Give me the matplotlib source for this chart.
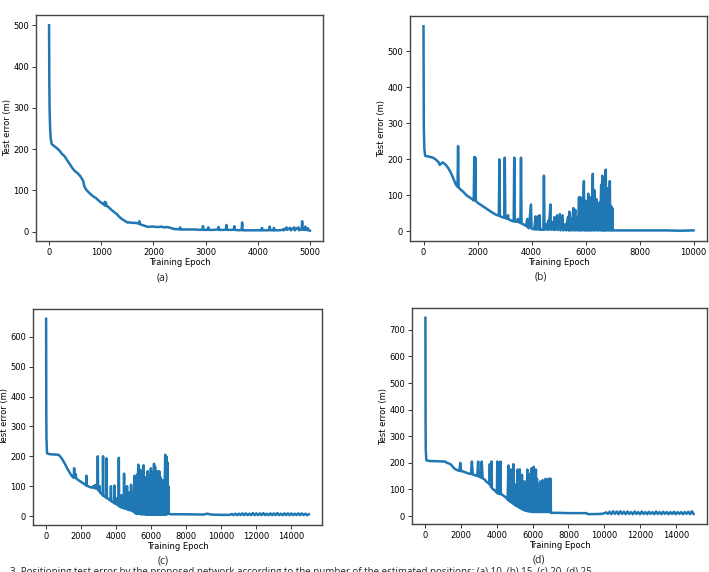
import numpy as np
import matplotlib
matplotlib.use("Agg")
import matplotlib.pyplot as plt

# (epoch, test error) pairs
points_a = [
    (0, 500), (5, 360), (10, 300), (20, 250), (30, 228), (50, 212), (100, 207), (150, 202),
    (200, 196), (250, 188), (300, 182), (350, 172), (400, 163), (450, 153), (500, 146),
    (550, 141), (600, 134), (650, 124), (680, 108), (720, 100), (760, 95), (800, 90),
    (850, 85), (900, 81), (950, 75), (1000, 70), (1050, 65), (1070, 72), (1080, 62),
    (1090, 70), (1100, 63), (1150, 58), (1200, 52), (1250, 47), (1300, 42), (1350, 35),
    (1400, 30), (1450, 26), (1500, 22), (1550, 22), (1600, 21), (1650, 21), (1700, 20),
    (1720, 19), (1730, 25), (1740, 18), (1780, 16), (1850, 13), (1900, 11), (1950, 12),
    (2000, 12), (2050, 11), (2100, 11), (2150, 12), (2200, 10), (2250, 11), (2300, 10),
    (2350, 8), (2400, 6), (2450, 6), (2500, 5), (2510, 10), (2530, 5), (2600, 5),
    (2700, 5), (2800, 5), (2900, 4), (2940, 5), (2950, 13), (2960, 4), (3000, 4),
    (3040, 5), (3050, 10), (3060, 4), (3150, 4), (3240, 5), (3250, 11), (3260, 4),
    (3350, 4), (3390, 5), (3400, 16), (3410, 4), (3500, 4), (3540, 5), (3550, 13),
    (3560, 4), (3650, 3), (3690, 4), (3700, 22), (3710, 3), (3800, 3), (3900, 3),
    (4000, 3), (4070, 3), (4080, 9), (4090, 3), (4200, 3), (4220, 4), (4230, 12),
    (4240, 3), (4300, 3), (4310, 9), (4320, 3), (4400, 3), (4480, 4), (4490, 6),
    (4500, 3), (4540, 8), (4550, 10), (4560, 4), (4620, 9), (4630, 3), (4640, 4),
    (4700, 10), (4710, 3), (4720, 5), (4780, 10), (4790, 3), (4800, 4), (4840, 5),
    (4850, 25), (4860, 5), (4900, 4), (4910, 12), (4920, 4), (4950, 4), (4960, 8),
    (4970, 3), (5000, 2),
]

points_b = [
    (0, 570), (5, 420), (10, 300), (30, 230), (60, 210), (200, 208), (350, 205),
    (450, 200), (550, 193), (600, 185), (650, 188), (700, 192), (800, 187), (900, 178),
    (1000, 165), (1100, 148), (1200, 130), (1260, 124), (1280, 237), (1300, 122),
    (1400, 115), (1500, 108), (1600, 100), (1700, 95), (1800, 90), (1860, 86),
    (1880, 207), (1900, 90), (1920, 205), (1940, 84), (2000, 80), (2100, 75), (2200, 70),
    (2300, 65), (2400, 60), (2500, 55), (2600, 50), (2700, 46), (2790, 44), (2810, 200),
    (2830, 43), (2900, 40), (2990, 38), (3010, 205), (3030, 37), (3100, 35), (3130, 45),
    (3150, 34), (3250, 30), (3340, 28), (3360, 205), (3380, 28), (3450, 27), (3500, 35),
    (3520, 26), (3590, 24), (3610, 205), (3630, 22), (3700, 20), (3800, 15), (3840, 35),
    (3860, 12), (3900, 9), (3980, 75), (4000, 8), (4100, 6), (4150, 42), (4170, 5),
    (4250, 43), (4270, 5), (4300, 45), (4320, 5), (4440, 5), (4460, 155), (4480, 5),
    (4550, 20), (4570, 5), (4620, 30), (4640, 5), (4700, 75), (4720, 5), (4780, 25),
    (4800, 5), (4850, 40), (4870, 4), (4950, 45), (4970, 4), (5050, 48), (5070, 3),
    (5150, 45), (5170, 3), (5250, 20), (5270, 3), (5350, 40), (5370, 3), (5400, 55),
    (5420, 3), (5470, 35), (5490, 3), (5550, 65), (5570, 3), (5620, 60), (5640, 3),
    (5700, 40), (5720, 3), (5760, 95), (5780, 3), (5810, 95), (5830, 3), (5870, 50),
    (5890, 3), (5940, 140), (5960, 3), (6000, 85), (6020, 3), (6050, 80), (6070, 3),
    (6100, 105), (6120, 3), (6150, 60), (6170, 3), (6200, 95), (6220, 3), (6250, 70),
    (6270, 160), (6290, 3), (6330, 115), (6350, 3), (6400, 90), (6420, 3), (6450, 60),
    (6470, 3), (6520, 80), (6540, 3), (6580, 130), (6600, 3), (6620, 155), (6640, 3),
    (6660, 150), (6680, 3), (6700, 150), (6720, 3), (6750, 172), (6770, 3), (6800, 120),
    (6820, 3), (6850, 70), (6870, 3), (6900, 140), (6920, 3), (6950, 70), (6970, 3),
    (6990, 65), (7010, 3), (8000, 3), (9000, 3), (9500, 2), (10000, 3),
]

points_c = [
    (0, 660), (5, 500), (10, 350), (20, 260), (50, 210), (200, 207), (500, 206), (700, 205),
    (800, 200), (900, 192), (1000, 182), (1100, 172), (1200, 160), (1300, 150), (1400, 140),
    (1500, 132), (1580, 128), (1600, 160), (1620, 130), (1700, 140), (1720, 126), (1800, 122),
    (1900, 118), (2000, 114), (2100, 110), (2200, 106), (2280, 103), (2300, 135), (2320, 102),
    (2400, 100), (2500, 97), (2600, 95), (2700, 100), (2750, 93), (2800, 104), (2850, 92),
    (2900, 105), (2930, 90), (2950, 200), (2970, 88), (3000, 85), (3050, 100), (3070, 80),
    (3150, 75), (3230, 70), (3250, 200), (3270, 68), (3350, 65), (3430, 62), (3450, 193),
    (3470, 60), (3550, 58), (3600, 55), (3680, 52), (3700, 100), (3720, 50), (3800, 47),
    (3880, 45), (3900, 102), (3920, 42), (4000, 40), (4050, 60), (4070, 38), (4130, 35),
    (4150, 195), (4170, 33), (4250, 30), (4300, 70), (4320, 28), (4430, 27), (4450, 142),
    (4470, 25), (4550, 40), (4570, 24), (4620, 100), (4640, 22), (4700, 80), (4720, 20),
    (4800, 60), (4820, 20), (4850, 105), (4870, 18), (4950, 50), (4970, 15), (5050, 135),
    (5070, 10), (5120, 80), (5140, 8), (5200, 140), (5220, 8), (5260, 172), (5280, 8),
    (5320, 100), (5340, 8), (5380, 155), (5400, 6), (5440, 120), (5460, 6), (5500, 150),
    (5520, 6), (5560, 170), (5580, 6), (5620, 110), (5640, 6), (5680, 130), (5700, 5),
    (5740, 90), (5760, 5), (5800, 150), (5820, 5), (5860, 120), (5880, 5), (5920, 135),
    (5940, 5), (5980, 160), (6000, 5), (6040, 110), (6060, 5), (6100, 145), (6120, 5),
    (6160, 175), (6180, 5), (6220, 165), (6240, 5), (6280, 120), (6300, 5), (6340, 150),
    (6360, 5), (6400, 100), (6420, 5), (6460, 150), (6480, 5), (6520, 130), (6540, 5),
    (6600, 90), (6620, 5), (6660, 120), (6680, 5), (6720, 80), (6740, 5), (6800, 205),
    (6820, 5), (6860, 200), (6880, 5), (6920, 180), (6940, 8), (6980, 100), (7000, 8),
    (7100, 6), (8000, 6), (9000, 5), (9200, 8), (9400, 5), (10000, 4), (10500, 4),
    (10600, 7), (10700, 3), (10800, 8), (10900, 3), (11000, 8), (11100, 3), (11200, 9),
    (11300, 3), (11400, 9), (11500, 3), (11600, 8), (11700, 3), (11800, 10), (11900, 3),
    (12000, 9), (12100, 3), (12200, 9), (12300, 3), (12400, 10), (12500, 3), (12600, 8),
    (12700, 3), (12800, 9), (12900, 3), (13000, 9), (13100, 3), (13200, 10), (13300, 3),
    (13400, 8), (13500, 3), (13600, 9), (13700, 3), (13800, 9), (13900, 3), (14000, 9),
    (14100, 3), (14200, 8), (14300, 3), (14400, 9), (14500, 3), (14600, 9), (14700, 3),
    (14800, 8), (14900, 3), (15000, 6),
]

points_d = [
    (0, 745), (5, 550), (10, 350), (20, 250), (50, 210), (200, 207), (600, 206), (1100, 205),
    (1200, 200), (1300, 198), (1400, 195), (1500, 188), (1600, 180), (1700, 175), (1800, 172),
    (1900, 170), (1950, 200), (2000, 168), (2100, 168), (2200, 165), (2300, 163), (2400, 160),
    (2550, 158), (2600, 205), (2650, 156), (2800, 153), (2900, 150), (2950, 205), (3000, 148),
    (3100, 145), (3150, 205), (3200, 142), (3300, 138), (3400, 130), (3500, 125), (3580, 120),
    (3600, 195), (3620, 118), (3680, 110), (3700, 205), (3720, 105), (3800, 100), (3900, 95),
    (4000, 88), (4020, 205), (4040, 85), (4150, 83), (4200, 205), (4220, 82), (4300, 80),
    (4400, 75), (4500, 70), (4600, 62), (4640, 190), (4660, 58), (4700, 120), (4720, 55),
    (4780, 175), (4800, 52), (4860, 110), (4880, 48), (4920, 195), (4940, 45), (5000, 120),
    (5020, 40), (5080, 90), (5100, 38), (5160, 175), (5180, 35), (5220, 100), (5240, 32),
    (5280, 175), (5300, 30), (5340, 120), (5360, 28), (5400, 155), (5420, 25), (5460, 130),
    (5480, 25), (5520, 110), (5540, 22), (5580, 130), (5600, 20), (5640, 90), (5660, 20),
    (5700, 175), (5720, 18), (5760, 140), (5780, 18), (5820, 120), (5840, 18), (5880, 160),
    (5900, 16), (5940, 180), (5960, 16), (6000, 150), (6020, 15), (6060, 185), (6080, 15),
    (6120, 170), (6140, 15), (6180, 175), (6200, 15), (6240, 140), (6260, 15), (6300, 120),
    (6320, 15), (6360, 100), (6380, 15), (6420, 130), (6440, 15), (6500, 90), (6520, 15),
    (6560, 135), (6580, 15), (6640, 100), (6660, 15), (6720, 140), (6740, 15), (6800, 130),
    (6820, 15), (6880, 140), (6900, 15), (6960, 140), (6980, 15), (7000, 140), (7020, 12),
    (7500, 12), (8000, 11), (9000, 11), (9100, 7), (9800, 8), (10000, 10),
    (10100, 14), (10200, 8), (10300, 16), (10400, 7), (10500, 18), (10600, 8), (10700, 17),
    (10800, 7), (10900, 18), (11000, 8), (11100, 16), (11200, 7), (11300, 17), (11400, 8),
    (11500, 15), (11600, 7), (11700, 17), (11800, 8), (11900, 15), (12000, 7), (12100, 17),
    (12200, 8), (12300, 15), (12400, 7), (12500, 16), (12600, 8), (12700, 15), (12800, 7),
    (12900, 17), (13000, 8), (13100, 15), (13200, 7), (13300, 16), (13400, 8), (13500, 15),
    (13600, 7), (13700, 15), (13800, 8), (13900, 16), (14000, 7), (14100, 15), (14200, 8),
    (14300, 15), (14400, 7), (14500, 15), (14600, 8), (14700, 16), (14800, 7), (14900, 18),
    (15000, 8),
]

panel_labels = ["(a)", "(b)", "(c)", "(d)"]
caption = ("3. Positioning test error by the proposed network according to the number "
           "of the estimated positions: (a) 10, (b) 15, (c) 20, (d) 25.")

# axes boxes in figure fractions [left, bottom, width, height]
boxes = [
    [0.0508, 0.5787, 0.4048, 0.3951],
    [0.5783, 0.5787, 0.4189, 0.3933],
    [0.0465, 0.0822, 0.4077, 0.3776],
    [0.5811, 0.0839, 0.4161, 0.3776],
]
# panel letter centres, in pixels from the top-left corner
label_xy = [(163, 278), (541, 277), (163, 561), (539, 560)]
xticks = [np.arange(0, 5001, 1000), np.arange(0, 10001, 2000),
          np.arange(0, 14001, 2000), np.arange(0, 14001, 2000)]
yticks = [np.arange(0, 501, 100), np.arange(0, 501, 100),
          np.arange(0, 601, 100), np.arange(0, 701, 100)]

W, H = 709, 572
fig = plt.figure(figsize=(W / 100, H / 100), dpi=100)

for pts, box, label, lxy, xt, yt in zip([points_a, points_b, points_c, points_d],
                                        boxes, panel_labels, label_xy, xticks, yticks):
    ax = fig.add_axes(box)
    ep, err = zip(*pts)
    ax.plot(ep, err, color="#1f77b4", linewidth=1.8)
    ax.set_xticks(xt)
    ax.set_yticks(yt)
    ax.tick_params(labelsize=6, length=3, width=0.7, pad=2, color="#333333")
    for s in ax.spines.values():
        s.set_color("#444444")
        s.set_linewidth(1.0)
    ax.set_xlabel("Training Epoch", fontsize=6, labelpad=1)
    ax.set_ylabel("Test error (m)", fontsize=6, labelpad=1)
    fig.text(lxy[0] / W, 1 - lxy[1] / H, label, ha="center", va="center",
             fontsize=7.5, family="Open Sans", color="#222222")

fig.text(10 / W, 1 - 567 / H, caption, ha="left", va="top",
         fontsize=7, family="Open Sans", color="#222222")

plt.savefig("out.png", dpi=100)
